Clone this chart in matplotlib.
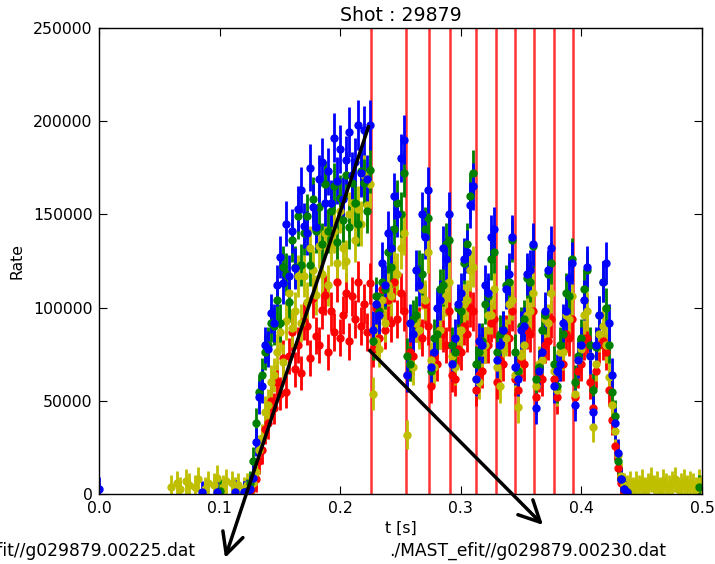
import numpy as np
import matplotlib
matplotlib.use('Agg')
import matplotlib.pyplot as plt

# ---------------- data (rates in units of 1000) ----------------
t_start = 0.12
dt = 0.0025

blue = [1, 1.5, 3, 9, 28, 52, 58, 80, 78, 97, 92, 112,
        127, 113, 145, 117, 141, 121, 153, 163, 144, 140, 175, 154, 143, 169, 178, 156, 173, 156,
        191, 168, 185, 158, 179, 194, 171, 178, 198, 172, 195, 169, 198,
        88, 102, 96, 124, 112, 140, 132, 160, 150, 180, 190,
        64, 92, 86, 120, 112, 150, 138, 163,
        68, 76, 100, 104, 132, 126, 150,
        70, 84, 102, 108, 126, 130, 155, 165, 62,
        82, 80, 112, 108, 138, 142,
        72, 80, 88, 110, 118, 138,
        68, 62, 88, 90, 118, 120, 134,
        46, 66, 76, 98, 120, 132,
        58, 66, 70, 92, 98, 116, 124,
        48, 72, 80, 104, 122,
        74, 44, 80, 96, 114, 124, 92, 64, 38, 22, 8, 3, 1]

green = [1, 2, 6, 18, 38, 55, 64, 76, 80, 92, 90, 104,
         92, 122, 118, 103, 136, 122, 149, 123, 140, 149, 123, 158, 141, 154, 134, 166, 141, 152,
         165, 135, 159, 147, 171, 143, 167, 156, 145, 173, 167, 152, 174,
         82, 106, 98, 114, 110, 130, 122, 142, 156, 150, 172,
         74, 70, 94, 96, 120, 118, 142, 148,
         66, 84, 86, 110, 112, 134, 136,
         80, 76, 100, 98, 124, 134, 160, 172, 70,
         76, 82, 102, 106, 126, 130,
         76, 86, 88, 112, 114, 136,
         76, 66, 90, 94, 116, 114, 133,
         62, 68, 88, 96, 118, 124,
         70, 58, 80, 86, 108, 106, 126,
         60, 74, 84, 110, 120,
         80, 56, 79, 96, 114, 100, 80, 55, 42, 18, 8, 3, 1]

yellow = [3, 5, 4, 6, 12, 24, 30, 44, 48, 60, 64, 76,
          87, 71, 93, 108, 89, 98, 117, 92, 117, 103, 132, 120, 107, 133, 118, 140, 112, 134,
          141, 124, 152, 132, 125, 150, 156, 136, 153, 145, 171, 155, 166,
          54, 82, 78, 104, 92, 112, 106, 122, 118, 132, 140,
          32, 70, 68, 92, 88, 110, 104, 130,
          72, 68, 86, 88, 104, 106, 114,
          74, 68, 84, 88, 102, 104, 120, 122, 62,
          60, 76, 80, 96, 96, 110,
          68, 58, 78, 84, 102, 104,
          64, 47, 74, 80, 96, 98, 108,
          58, 70, 72, 94, 92, 108,
          66, 56, 76, 76, 96, 94, 106,
          54, 72, 78, 96, 98,
          74, 36, 70, 86, 90, 80, 63, 48, 34, 21, 10, 5, 4, 6, 3]

red = [0.5, 1, 2, 4, 8, 18, 24, 35, 38, 50, 46, 60,
       54, 73, 55, 74, 87, 67, 80, 65, 93, 90, 73, 105, 85, 80, 99, 107, 76, 98,
       87, 114, 84, 96, 108, 82, 106, 94, 114, 90, 102, 87, 113,
       78, 100, 84, 110, 88, 104, 92, 114, 94, 108, 98,
       64, 76, 74, 92, 90, 84, 102, 90,
       58, 74, 70, 88, 86, 80, 98,
       64, 62, 78, 76, 90, 86, 100, 98, 56,
       64, 66, 80, 80, 92, 94,
       60, 72, 70, 86, 84, 98,
       62, 56, 72, 70, 88, 86, 98,
       52, 64, 62, 80, 82, 94,
       62, 52, 70, 70, 86, 84, 94,
       52, 66, 70, 82, 84,
       60, 46, 66, 80, 82, 76, 56, 40, 26, 14, 6, 2, 1]

# yellow background before and after the discharge (0 = no counts, not drawn)
yellow_pre_start = 0.06
yellow_pre = [4, 0, 6, 3, 0, 7, 5, 0, 4, 8, 0, 3, 6, 0, 5, 9, 0, 4, 7, 0, 6, 3, 5, 0]
yellow_post_start = 0.445
yellow_post = [6, 4, 7, 3, 5, 8, 4, 6, 3, 7, 5, 4, 6, 8, 3, 5, 7, 4, 6, 5, 3, 7, 4]

# isolated early / late points
blue_extra_t = [0.0, 0.085, 0.0975, 0.1125]
blue_extra = [3, 1, 1, 1.5]
green_extra_t = [0.1, 0.4975]
green_extra = [2, 4]

# EFIT times (vertical red lines)
efit_times = [0.2255, 0.2545, 0.274, 0.291, 0.3125, 0.3295, 0.345, 0.361, 0.377, 0.393]

# ---------------- figure ----------------
W, H = 715, 564
fig = plt.figure(figsize=(W / 100, H / 100), dpi=100)
fig.patch.set_facecolor('white')
ax = fig.add_axes([99 / W, 1 - 494.3 / H, 603 / W, 466.6 / H])


def series(start, vals):
    v = np.asarray(vals, dtype=float) * 1000.0
    t = start + dt * np.arange(len(v))
    return t, v


def err_of(v):
    return np.sqrt(700.0 * v + 4.0e7)


for x in efit_times:
    ax.axvline(x, color='r', lw=1.8, alpha=0.8, zorder=1)

t_r, v_r = series(t_start, red)
ty1, vy1 = series(yellow_pre_start, yellow_pre)
ty2, vy2 = series(t_start, yellow)
ty3, vy3 = series(yellow_post_start, yellow_post)
t_y = np.concatenate([ty1, ty2, ty3])
v_y = np.concatenate([vy1, vy2, vy3])
tg, vg = series(t_start, green)
t_g = np.concatenate([tg, green_extra_t])
v_g = np.concatenate([vg, np.asarray(green_extra) * 1000.0])
tb, vb = series(t_start, blue)
t_b = np.concatenate([blue_extra_t, tb])
v_b = np.concatenate([np.asarray(blue_extra) * 1000.0, vb])

for t, v, c in [(t_r, v_r, 'r'), (t_y, v_y, 'y'), (t_g, v_g, 'g'), (t_b, v_b, 'b')]:
    m = v > 0
    ax.errorbar(t[m], v[m], yerr=err_of(v[m]), fmt='o', color=c, ecolor=c, mec=c, mfc=c,
                ms=5, elinewidth=2, capsize=0, zorder=2)

ax.set_xlim(0.0, 0.5)
ax.set_ylim(0, 250000)
ax.set_xticks([0.0, 0.1, 0.2, 0.3, 0.4, 0.5])
ax.set_yticks([0, 50000, 100000, 150000, 200000, 250000])
ax.tick_params(direction='in', top=True, right=True, length=5.5, width=0.8,
               labelsize=11.3, pad=4.5)
for s in ax.spines.values():
    s.set_linewidth(1.0)

ax.set_title('Shot : 29879', fontsize=13.6, pad=5)
ax.set_xlabel('t [s]', fontsize=11.3, labelpad=4)
ax.set_ylabel('Rate', fontsize=11.3, labelpad=6)

# annotations (arrows from data region to file labels)
arrow_kw = dict(arrowstyle='->,head_length=0.4,head_width=0.2', lw=2.5, color='k',
                mutation_scale=38, shrinkA=0, shrinkB=0)
ax.annotate('', xy=(225 / W, 1 - 558 / H), xycoords='figure fraction',
            xytext=(0.2235, 197000), textcoords='data', arrowprops=arrow_kw,
            annotation_clip=False)
ax.annotate('', xy=(543 / W, 1 - 525 / H), xycoords='figure fraction',
            xytext=(0.2245, 77000), textcoords='data', arrowprops=arrow_kw,
            annotation_clip=False)
fig.text(57 / W, 1 - 551 / H, './MAST_efit//g029879.00225.dat', ha='center', va='center',
         fontsize=12.3)
fig.text(528 / W, 1 - 551 / H, './MAST_efit//g029879.00230.dat', ha='center', va='center',
         fontsize=12.3)

fig.savefig('out.png', dpi=100, facecolor='white')
